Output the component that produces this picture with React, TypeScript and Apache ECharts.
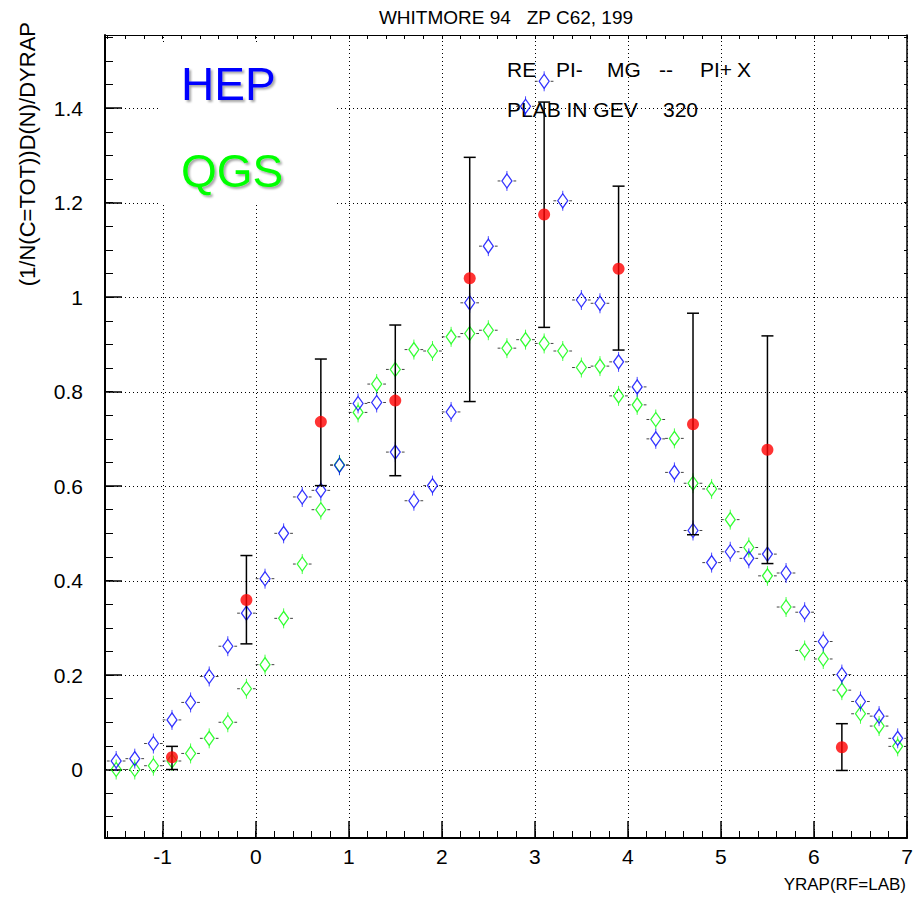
import React, { useEffect, useRef } from 'react';
import * as echarts from 'echarts';

// ---------- data ----------
const xCenters = [
  -1.5, -1.3, -1.1, -0.9, -0.7, -0.5, -0.3, -0.1, 0.1, 0.3, 0.5, 0.7, 0.9, 1.1, 1.3,
  1.5, 1.7, 1.9, 2.1, 2.3, 2.5, 2.7, 2.9, 3.1, 3.3, 3.5, 3.7, 3.9, 4.1, 4.3,
  4.5, 4.7, 4.9, 5.1, 5.3, 5.5, 5.7, 5.9, 6.1, 6.3, 6.5, 6.7, 6.9,
];
const hepValues = [
  0.018, 0.023, 0.055, 0.105, 0.142, 0.197, 0.261, 0.331, 0.404, 0.5, 0.577, 0.591, 0.644, 0.775, 0.777,
  0.672, 0.569, 0.601, 0.757, 0.988, 1.108, 1.246, 1.404, 1.457, 1.204, 0.994, 0.987, 0.863, 0.81, 0.7,
  0.629, 0.506, 0.438, 0.461, 0.447, 0.456, 0.416, 0.333, 0.271, 0.201, 0.144, 0.113, 0.066,
];
const qgsValues = [
  0.0, 0.0, 0.008, 0.018, 0.034, 0.066, 0.1, 0.171, 0.222, 0.32, 0.435, 0.55, 0.645, 0.756, 0.816,
  0.847, 0.889, 0.886, 0.916, 0.923, 0.93, 0.892, 0.91, 0.902, 0.886, 0.851, 0.854, 0.791, 0.772, 0.741,
  0.701, 0.606, 0.594, 0.529, 0.47, 0.41, 0.344, 0.252, 0.234, 0.168, 0.118, 0.092, 0.049,
];
const expX = [-0.9, -0.1, 0.7, 1.5, 2.3, 3.1, 3.9, 4.7, 5.5, 6.3];
const expY = [0.026, 0.359, 0.736, 0.781, 1.04, 1.175, 1.06, 0.731, 0.677, 0.047];
const expLow = [0.0, 0.266, 0.601, 0.622, 0.779, 0.936, 0.888, 0.497, 0.436, -0.002];
const expHigh = [0.049, 0.453, 0.869, 0.941, 1.296, 1.413, 1.235, 0.966, 0.918, 0.097];

const xMajorTicks = [-1, 0, 1, 2, 3, 4, 5, 6, 7];
const yMajorTicks = [0, 0.2, 0.4, 0.6, 0.8, 1, 1.2, 1.4];

const X_MIN = -1.62;
const X_MAX = 7;
const Y_MIN = -0.145;
const Y_MAX = 1.555;
const X_HALF_BIN = 0.1;

const xMinorTicks: number[] = [];
for (let i = 0; i <= 43; i++) xMinorTicks.push(Math.round((-1.6 + 0.2 * i) * 100) / 100);
const yMinorTicks: number[] = [];
for (let i = 0; i <= 33; i++) yMinorTicks.push(Math.round((-0.1 + 0.05 * i) * 1000) / 1000);

const FONT = '"Liberation Sans", Arial, Helvetica, sans-serif';

const fmt = (v: number) => String(Math.round(v * 10) / 10);
const crisp = (v: number) => Math.round(v) + 0.5;

export default function App() {
  const ref = useRef<HTMLDivElement>(null);

  useEffect(() => {
    if (!ref.current) return;
    const chart = echarts.init(ref.current, undefined, { renderer: 'svg' });

    const gridXRender = (_p: any, api: any) => {
      const v = api.value(0);
      const a = api.coord([v, Y_MIN]);
      const b = api.coord([v, Y_MAX]);
      const x = crisp(a[0]);
      return {
        type: 'line',
        shape: { x1: x, y1: a[1], x2: x, y2: b[1] },
        style: { stroke: '#000', lineWidth: 1, lineDash: [1, 3] },
        silent: true,
      };
    };
    const gridYRender = (_p: any, api: any) => {
      const v = api.value(1);
      const a = api.coord([X_MIN, v]);
      const b = api.coord([X_MAX, v]);
      const y = crisp(a[1]);
      return {
        type: 'line',
        shape: { x1: a[0], y1: y, x2: b[0], y2: y },
        style: { stroke: '#000', lineWidth: 1, lineDash: [1, 3] },
        silent: true,
      };
    };
    const decoRender = (color: string) => (_p: any, api: any) => {
      const x = api.value(0);
      const y = api.value(1);
      const c = api.coord([x, y]);
      const l = api.coord([x - X_HALF_BIN, y]);
      const r = api.coord([x + X_HALF_BIN, y]);
      const gap = 6.5;
      return {
        type: 'group',
        children: [
          { type: 'line', shape: { x1: l[0], y1: c[1], x2: c[0] - gap, y2: c[1] }, style: { stroke: '#444', lineWidth: 1 } },
          { type: 'line', shape: { x1: c[0] + gap, y1: c[1], x2: r[0], y2: c[1] }, style: { stroke: '#444', lineWidth: 1 } },
          { type: 'line', shape: { x1: c[0], y1: c[1] - 10, x2: c[0], y2: c[1] - 7 }, style: { stroke: color, lineWidth: 1, opacity: 0.7 } },
          { type: 'line', shape: { x1: c[0], y1: c[1] + 7, x2: c[0], y2: c[1] + 10 }, style: { stroke: color, lineWidth: 1, opacity: 0.7 } },
        ],
      };
    };
    const errRender = (_p: any, api: any) => {
      const x = api.value(0);
      const lo = api.coord([x, api.value(1)]);
      const hi = api.coord([x, api.value(2)]);
      const cw = 6;
      const st = { stroke: '#000', lineWidth: 1.5 };
      return {
        type: 'group',
        children: [
          { type: 'line', shape: { x1: lo[0], y1: lo[1], x2: hi[0], y2: hi[1] }, style: st },
          { type: 'line', shape: { x1: hi[0] - cw, y1: hi[1], x2: hi[0] + cw, y2: hi[1] }, style: st },
          { type: 'line', shape: { x1: lo[0] - cw, y1: lo[1], x2: lo[0] + cw, y2: lo[1] }, style: st },
        ],
      };
    };

    const qgsData = xCenters.map((x, i) => [x, qgsValues[i]]);
    const hepData = xCenters.map((x, i) => [x, hepValues[i]]);
    const expData = expX.map((x, i) => [x, expY[i]]);
    const errData = expX.map((x, i) => [x, expLow[i], expHigh[i]]);

    const baseX = { type: 'value', min: X_MIN, max: X_MAX, splitLine: { show: false } };
    const baseY = { type: 'value', min: Y_MIN, max: Y_MAX, splitLine: { show: false } };

    chart.setOption({
      animation: false,
      backgroundColor: '#fff',
      grid: { left: 105, right: 11, top: 35, bottom: 60, containLabel: false },
      xAxis: [
        {
          ...baseX,
          position: 'bottom',
          axisLine: { show: true, onZero: false, lineStyle: { color: '#000', width: 2 } },
          axisTick: { show: true, inside: true, length: 17, customValues: xMajorTicks, lineStyle: { color: '#000', width: 1.5 } },
          axisLabel: { show: true, customValues: xMajorTicks, formatter: fmt, fontSize: 21, color: '#000', margin: 8, fontFamily: FONT },
        },
        {
          ...baseX,
          position: 'bottom',
          offset: 0,
          axisLine: { show: false, onZero: false },
          axisTick: { show: true, inside: true, length: 7, customValues: xMinorTicks, lineStyle: { color: '#000', width: 1 } },
          axisLabel: { show: false },
        },
        {
          ...baseX,
          position: 'top',
          offset: 0,
          axisLine: { show: true, onZero: false, lineStyle: { color: '#000', width: 1 } },
          axisTick: { show: true, inside: true, length: 4, customValues: xMinorTicks, lineStyle: { color: '#000', width: 1 } },
          axisLabel: { show: false },
        },
      ],
      yAxis: [
        {
          ...baseY,
          position: 'left',
          axisLine: { show: true, onZero: false, lineStyle: { color: '#000', width: 2 } },
          axisTick: { show: true, inside: true, length: 17, customValues: yMajorTicks, lineStyle: { color: '#000', width: 1.5 } },
          axisLabel: { show: true, customValues: yMajorTicks, formatter: fmt, fontSize: 21, color: '#000', margin: 22, fontFamily: FONT },
        },
        {
          ...baseY,
          position: 'left',
          offset: 0,
          axisLine: { show: false, onZero: false },
          axisTick: { show: true, inside: true, length: 8, customValues: yMinorTicks, lineStyle: { color: '#000', width: 1 } },
          axisLabel: { show: false },
        },
        {
          ...baseY,
          position: 'right',
          offset: 0,
          axisLine: { show: true, onZero: false, lineStyle: { color: '#000', width: 1.5 } },
          axisTick: { show: true, inside: true, length: 3, customValues: yMinorTicks, lineStyle: { color: '#000', width: 1 } },
          axisLabel: { show: false },
        },
      ],
      graphic: [
        { type: 'rect', z: 3, silent: true, shape: { x: 160, y: 43, width: 177, height: 162 }, style: { fill: '#fff' } },
        {
          type: 'text', z: 4, x: 181, y: 84,
          style: {
            text: 'HEP', fill: '#0000ff', fontSize: 46, fontFamily: FONT, textVerticalAlign: 'middle',
            textShadowColor: 'rgba(0,0,0,0.35)', textShadowOffsetX: 2, textShadowOffsetY: 2, textShadowBlur: 2,
          },
        },
        {
          type: 'text', z: 4, x: 181, y: 171,
          style: {
            text: 'QGS', fill: '#00ff00', fontSize: 46, fontFamily: FONT, textVerticalAlign: 'middle',
            textShadowColor: 'rgba(0,0,0,0.35)', textShadowOffsetX: 2, textShadowOffsetY: 2, textShadowBlur: 2,
          },
        },
        { type: 'text', z: 4, x: 506, y: 17, style: { text: 'WHITMORE 94   ZP C62, 199', fill: '#000', fontSize: 19, fontFamily: FONT, textAlign: 'center', textVerticalAlign: 'middle' } },
        { type: 'text', z: 4, x: 507, y: 69, style: { text: 'RE', fill: '#000', fontSize: 21, fontFamily: FONT, textVerticalAlign: 'middle' } },
        { type: 'text', z: 4, x: 556, y: 69, style: { text: 'PI-', fill: '#000', fontSize: 21, fontFamily: FONT, textVerticalAlign: 'middle' } },
        { type: 'text', z: 4, x: 607, y: 69, style: { text: 'MG', fill: '#000', fontSize: 21, fontFamily: FONT, textVerticalAlign: 'middle' } },
        { type: 'text', z: 4, x: 659, y: 69, style: { text: '--', fill: '#000', fontSize: 21, fontFamily: FONT, textVerticalAlign: 'middle' } },
        { type: 'text', z: 4, x: 700, y: 69, style: { text: 'PI+', fill: '#000', fontSize: 21, fontFamily: FONT, textVerticalAlign: 'middle' } },
        { type: 'text', z: 4, x: 737, y: 69, style: { text: 'X', fill: '#000', fontSize: 21, fontFamily: FONT, textVerticalAlign: 'middle' } },
        { type: 'text', z: 4, x: 507, y: 109, style: { text: 'PLAB IN GEV', fill: '#000', fontSize: 21, fontFamily: FONT, textVerticalAlign: 'middle' } },
        { type: 'text', z: 4, x: 663, y: 109, style: { text: '320', fill: '#000', fontSize: 21, fontFamily: FONT, textVerticalAlign: 'middle' } },
        { type: 'text', z: 4, x: 906, y: 884, style: { text: 'YRAP(RF=LAB)', fill: '#000', fontSize: 17, fontFamily: FONT, textAlign: 'right', textVerticalAlign: 'middle' } },
        {
          type: 'text', z: 4, x: 27, y: 22, rotation: Math.PI / 2,
          style: { text: '(1/N(C=TOT))D(N)/DYRAP', fill: '#000', fontSize: 22, fontFamily: FONT, textAlign: 'right', textVerticalAlign: 'middle' },
        },
      ],
      series: [
        { type: 'custom', name: 'gridX', z: 1, clip: false, silent: true, renderItem: gridXRender, data: xMajorTicks.map((v) => [v, 0]) },
        { type: 'custom', name: 'gridY', z: 1, clip: false, silent: true, renderItem: gridYRender, data: yMajorTicks.map((v) => [0, v]) },
        { type: 'custom', name: 'qgsBars', z: 5, silent: true, renderItem: decoRender('#00ff00'), data: qgsData },
        {
          type: 'scatter', name: 'QGS', z: 6, symbol: 'diamond', symbolSize: [10, 14], data: qgsData,
          itemStyle: { color: 'rgba(0,0,0,0)', borderColor: '#00ff00', borderWidth: 1.3 },
        },
        { type: 'custom', name: 'hepBars', z: 7, silent: true, renderItem: decoRender('#0000ff'), data: hepData },
        {
          type: 'scatter', name: 'HEP', z: 8, symbol: 'diamond', symbolSize: [10, 14], data: hepData,
          itemStyle: { color: 'rgba(0,0,0,0)', borderColor: '#0000ff', borderWidth: 1.3 },
        },
        { type: 'custom', name: 'expErr', z: 9, silent: true, renderItem: errRender, data: errData },
        {
          type: 'scatter', name: 'EXP', z: 10, symbol: 'circle', symbolSize: 12, data: expData,
          itemStyle: { color: '#ff0000' },
        },
      ],
    });

    return () => chart.dispose();
  }, []);

  return <div ref={ref} style={{ position: 'fixed', left: 0, top: 0, width: 918, height: 898, background: '#fff' }} />;
}
